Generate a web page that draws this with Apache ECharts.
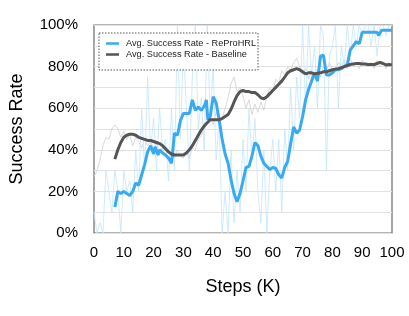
<!DOCTYPE html>
<html><head><meta charset="utf-8">
<script src="https://cdn.jsdelivr.net/npm/echarts@6/dist/echarts.min.js"></script>
<style>html,body{margin:0;padding:0;background:#fff}#c{width:409px;height:316px}</style>
</head><body><div id="c"></div>
<script>
const rawSteps = Array.from({length:101},(_,i)=>i);
const blueRaw = [10,0,5,0,30,20,10,30,20,0,30,20,25,10,40,20,60,30,75,40,55,30,60,40,45,25,60,30,100,45,90,60,30,75,100,50,65,40,100,55,80,35,55,0,20,0,40,5,30,10,45,20,60,35,55,20,5,40,0,30,45,20,45,10,50,30,70,40,75,55,100,60,100,75,90,60,100,95,30,85,90,100,60,90,80,100,85,100,90,100,95,100,100,90,100,85,100,100,95,100,100];
const grayRaw = [27,30,35,42,46,45,50,52,50,46,49,45,47,42,46,44,41,45,42,44,40,43,39,41,37,40,38,36,40,37,36,39,36,41,40,45,47,50,53,56,52,58,53,55,60,65,72,75,68,70,66,60,64,57,62,58,63,59,66,70,68,74,72,78,76,80,78,82,84,80,76,79,74,78,76,79,75,80,78,82,79,78,82,80,83,79,84,80,82,79,83,81,80,82,79,83,80,82,79,82,80];
const blueSteps = [7,8,9,10,11,12,13,14,15,16,17,18,19,20,20.5,21.5,22,23,24,25,26,27,28,29,30,31,32,33,34,35,36,37,37.7,38.2,39,40,41,42,43,44,45,46,47,48,49,50,51,52,53,54,55,56,57,58,59,60,61,62,63,64,65,66,67,68,69,70,71,72,73,74,75,76,77,78,79,80,81,82,83,84,85,86,87,88,89,90,91,92,93,94,95,95.5,96.5,97,98,99,100];
const blueVals = [12.5,20,19,20,19,18,20,24,23,28,33,39,42,38,41.5,37.5,40,38.5,37.5,36,33.5,48,47,54,57.5,57.5,57.5,64,59,60.5,59,61,64,54.5,56,65.5,62.5,54.5,45,38,33.5,25.5,19,15,19,25,31.5,32,37,43.5,42,37,33.5,32,30.5,31.5,31,28,26.5,31.5,34.5,43,51,48,49.5,56,64,69,73,77,73,85,85.5,76,76,77,78.5,78.5,79,80,81,88,90,92,91,96.5,96.5,96.5,96.5,96.5,96.5,95,97.5,97.5,97.5,97.5,97.5];
const graySteps = [7,8,9,10,11,12,13,14,15,16,17,18,19,20,21,22,23,24,25,26,27,28,29,30,31,32,33,34,35,36,37,38,39,40,41,42,43,44,45,46,47,48,49,50,51,52,53,54,55,56,57,58,59,60,61,62,63,64,65,66,67,68,69,70,71,72,73,74,75,76,77,78,79,80,81,82,83,84,85,86,87,88,89,90,91,92,93,94,95,96,97,98,99,100];
const grayVals = [35.5,40,43.5,46,47,47.5,47.5,47,46,45.5,45,44.5,44.5,44,43.5,43,42,40.5,39,38,37.5,37.5,37.5,37.5,38.5,40,42,44.5,47,49.5,51.5,53,54.5,54.5,54.5,54.5,55,56,57,59.5,63,66,68,68.5,68,68,67.5,67.5,66.5,65,64.5,65.5,67,68.5,70,71.5,73,75,77,78,78.5,79,78.5,77.5,76.5,77,77,76.5,76.8,77,77.5,77.5,78,78.5,78.8,79,79.5,80,80.5,81,81.3,81.5,81.5,81.3,81.2,81,81,81,81.5,82,81.5,80.8,81,80.8];
const names = ['Avg. Success Rate - ReProHRL','Avg. Success Rate - Baseline'];

const zip = (a,b)=>a.map((x,i)=>[x,b[i]]);
const font = '"Liberation Sans", Arial, sans-serif';
const chart = echarts.init(document.getElementById('c'));
chart.setOption({
  animation:false,
  backgroundColor:'#fff',
  grid:{left:93,right:17,top:25,bottom:83,show:true,borderColor:'#6a6a6a',borderWidth:1.2,backgroundColor:'transparent'},
  xAxis:{type:'value',min:0,max:100,interval:10,
    name:'Steps (K)',nameLocation:'middle',nameGap:45,
    nameTextStyle:{fontFamily:font,fontSize:18,color:'#000'},
    axisLine:{show:false},axisTick:{show:false},splitLine:{show:false},
    axisLabel:{fontFamily:font,fontSize:15,color:'#000',margin:12}},
  yAxis:{type:'value',min:0,max:100,interval:10,
    name:'Success Rate',nameLocation:'middle',nameGap:68,
    nameTextStyle:{fontFamily:font,fontSize:18,color:'#000'},
    axisLine:{show:false},axisTick:{show:false},
    splitLine:{show:true,lineStyle:{color:'#e2e2e2',width:1}},
    axisLabel:{fontFamily:font,fontSize:15,color:'#000',margin:16,
      formatter:v=> (v%20===0 ? v+'%' : '')}},
  graphic:[{type:'rect',z:50,shape:{x:99,y:33,width:159,height:37},
    style:{fill:'#fff',stroke:'#555',lineWidth:1,lineDash:[1.5,1.5]}}],
  legend:{z:60,orient:'vertical',left:101,top:34,itemGap:2,itemWidth:13,itemHeight:2.5,
    textStyle:{fontFamily:font,fontSize:9.2,color:'#222',padding:[0,0,0,2]},
    data:[{name:names[0],icon:'rect'},{name:names[1],icon:'rect'}]},
  series:[
    {type:'line',data:zip(rawSteps,grayRaw),showSymbol:false,lineStyle:{color:'#cfcfcf',width:0.8},z:1,silent:true},
    {type:'line',data:zip(rawSteps,blueRaw),showSymbol:false,lineStyle:{color:'#c3e4fb',width:0.8},z:1,silent:true},
    {name:names[0],type:'line',data:zip(blueSteps,blueVals),showSymbol:false,itemStyle:{color:'#38aaf2'},lineStyle:{color:'#38aaf2',width:3},z:3},
    {name:names[1],type:'line',data:zip(graySteps,grayVals),showSymbol:false,itemStyle:{color:'#555555'},lineStyle:{color:'#555555',width:3},z:3}
  ]
});
</script></body></html>
